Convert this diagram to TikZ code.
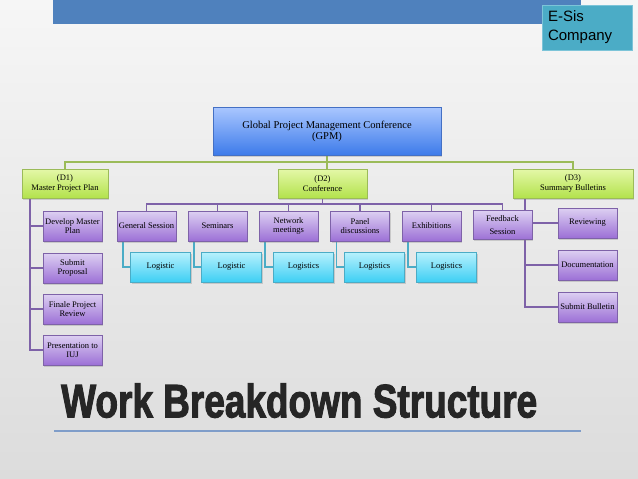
\documentclass[tikz,border=0pt]{standalone}
\usepackage{fontspec}
\setmainfont{Liberation Serif}
\newfontfamily\sansf{Liberation Sans}
\newfontfamily\titlef[UprightFont=Liberation Sans Bold, UprightFeatures={FakeBold=2.5}]{Liberation Sans}
\usetikzlibrary{shadows}
\definecolor{bgtop}{HTML}{F6F6F6}
\definecolor{bgbot}{HTML}{DCDCDC}
\definecolor{barblue}{HTML}{4F81BD}
\definecolor{esisfill}{HTML}{4BACC6}
\definecolor{esisdraw}{HTML}{7CC4D8}
\definecolor{gpmtop}{HTML}{AAC7FF}
\definecolor{gpmbot}{HTML}{3D7BEA}
\definecolor{gpmdraw}{HTML}{4470C4}
\definecolor{grtop}{HTML}{E4F8A8}
\definecolor{grbot}{HTML}{B3E24C}
\definecolor{grdraw}{HTML}{9BBB59}
\definecolor{putop}{HTML}{DDD0F2}
\definecolor{pubot}{HTML}{9C70D6}
\definecolor{pudraw}{HTML}{7E62A8}
\definecolor{cytop}{HTML}{B8F1FD}
\definecolor{cybot}{HTML}{3ECFF4}
\definecolor{cydraw}{HTML}{4BACC6}
\definecolor{titlecol}{HTML}{262626}
\definecolor{rulecol}{HTML}{7F9DC9}
\pgfdeclarelayer{bglayer}
\pgfdeclarelayer{linelayer}
\pgfsetlayers{bglayer,linelayer,main}
\tikzset{
  boxbase/.style={rectangle, inner sep=1pt, align=center,
    font=\fontsize{8.5}{9.5}\selectfont,
    drop shadow={shadow xshift=1pt, shadow yshift=-1.5pt, opacity=0.3}},
  gpmbox/.style={boxbase, draw=gpmdraw, top color=gpmtop, bottom color=gpmbot,
    minimum width=228pt, minimum height=48pt, font=\fontsize{10.5}{11}\selectfont},
  grbox/.style={boxbase, draw=grdraw, top color=grtop, bottom color=grbot,
    minimum height=29pt},
  pubox/.style={boxbase, draw=pudraw, top color=putop, bottom color=pubot,
    minimum width=59pt, minimum height=30pt},
  cybox/.style={boxbase, draw=cydraw, top color=cytop, bottom color=cybot,
    minimum width=60pt, minimum height=30pt},
  gline/.style={draw=grdraw, line width=1.6pt},
  pline/.style={draw=pudraw, line width=1.6pt},
  cline/.style={draw=cydraw, line width=1.6pt},
}
\begin{document}
\begin{tikzpicture}[x=1pt,y=-1pt]
\useasboundingbox (0,0) rectangle (638,479);
\begin{pgfonlayer}{bglayer}
\fill[top color=bgtop, bottom color=bgbot] (0,0) rectangle (638,479);
\fill[barblue] (53,0) rectangle (581,24);
\end{pgfonlayer}

\node[draw=esisdraw, fill=esisfill, minimum width=90pt, minimum height=45pt,
  text width=78pt, inner xsep=6pt, inner ysep=2pt, align=left,
  font=\sansf\fontsize{15}{19}\selectfont] (esis) at (587,27.5) {E-Sis\\Company};

% top level
\node[gpmbox] (gpm) at (327,131) {Global Project Management Conference\\(GPM)};
\node[grbox, minimum width=86pt] (d1) at (65,183.5) {(D1)\\Master Project Plan};
\node[grbox, minimum width=89pt] (d2) at (322.5,183.5) {(D2)\\Conference};
\node[grbox, minimum width=120pt] (d3) at (573,183.5) {(D3)\\Summary Bulletins};

% D1 children
\node[pubox] (a1) at (72.5,226) {Develop Master\\Plan};
\node[pubox] (a2) at (72.5,268) {Submit\\Proposal};
\node[pubox] (a3) at (72.5,309) {Finale Project\\Review};
\node[pubox] (a4) at (72.5,350) {Presentation to\\IUJ};

% D2 children
\node[pubox] (b1) at (146.5,226) {General Session};
\node[pubox] (b2) at (217.5,226) {Seminars};
\node[pubox] (b3) at (288.5,226) {Network\\meetings};
\node[pubox] (b4) at (360,226) {Panel\\discussions};
\node[pubox] (b5) at (431.5,226) {Exhibitions};
\node[pubox, minimum height=29pt, font=\fontsize{8.5}{12.5}\selectfont] (b6) at (502.5,225) {Feedback\\Session};

\node[cybox] (l1) at (160.5,267) {Logistic};
\node[cybox] (l2) at (231.5,267) {Logistic};
\node[cybox] (l3) at (303.5,267) {Logistics};
\node[cybox] (l4) at (374.5,267) {Logistics};
\node[cybox] (l5) at (446.5,267) {Logistics};

% D3 children
\node[pubox] (c1) at (587.5,223) {Reviewing};
\node[pubox] (c2) at (587.5,265) {Documentation};
\node[pubox] (c3) at (587.5,307) {Submit Bulletin};

% title
\node[anchor=south west, inner sep=0pt, text=titlecol] (title) at (61,418)
  {\resizebox{476pt}{34pt}{\titlef Work Breakdown Structure}};
\coordinate (ruleL) at (54,431);
\coordinate (ruleR) at (581,431);

\begin{pgfonlayer}{linelayer}
\draw[rulecol, line width=2pt] (ruleL) -- (ruleR);
% green
\path (gpm.south) ++(0,7) coordinate (gj);
\draw[gline] (gpm.south) -- (gpm.south |- d2.north);
\draw[gline] (d1.north) |- (gj) -| (d3.north);
% D1 branch
\path (d1.south west) ++(8,0) coordinate (d1s);
\foreach \n in {a1,a2,a3,a4} \draw[pline] (d1s) |- (\n.west);
% D2 branch
\path (d2.south) ++(0,6) coordinate (d2j);
\draw[pline] (d2.south) -- (d2j);
\draw[pline] (b1.north) |- (d2j) -| (b6.north);
\foreach \n in {b2,b3,b4,b5} \draw[pline] (\n.north) -- (\n.north |- d2j);
% logistics
\foreach \p/\c in {b1/l1,b2/l2,b3/l3,b4/l4,b5/l5}
  {\path (\p.south west) ++(6,0) coordinate (\p s);
   \draw[cline] (\p s) |- (\c.west);}
% D3 branch
\path (d3.south west) ++(12,0) coordinate (d3s);
\foreach \n in {c1,c2,c3} \draw[pline] (d3s) |- (\n.west);
\end{pgfonlayer}
\end{tikzpicture}
\end{document}
